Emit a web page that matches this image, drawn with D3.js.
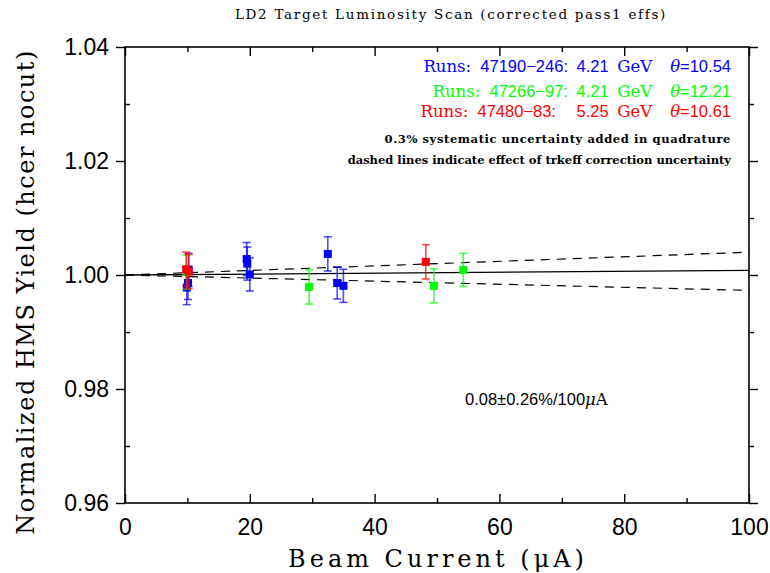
<!DOCTYPE html>
<html>
<head>
<meta charset="utf-8">
<script src="https://cdn.jsdelivr.net/npm/d3@7"></script>
<style>
  html, body { margin: 0; padding: 0; background: #fff; }
  svg { display: block; }
</style>
</head>
<body>
<svg id="chart" width="770" height="573"></svg>
<script>
// Beam current (uA), normalized yield and its uncertainty for each run group
const blueCurrent = [9.9, 10.1, 10.2, 19.5, 19.6, 20.0, 32.5, 34.0, 35.0];
const blueYield   = [0.9978, 0.9986, 1.0009, 1.0028, 1.0020, 1.0001, 1.0037, 0.9986, 0.9981];
const blueErr     = [0.0030, 0.0029, 0.0029, 0.0029, 0.0029, 0.0029, 0.0030, 0.0028, 0.0029];

const greenCurrent = [9.9, 29.5, 49.5, 54.2];
const greenYield   = [1.0005, 0.9979, 0.9981, 1.0009];
const greenErr     = [0.0030, 0.0030, 0.0030, 0.0029];

const redCurrent = [9.8, 10.2, 48.2];
const redYield   = [1.0010, 1.0006, 1.0023];
const redErr     = [0.0030, 0.0030, 0.0030];

// Linear fit and its trkeff-correction band, evaluated at 0 and 100 uA
const fitCurrent = [0, 100];
const fitYield   = [1.0000, 1.0008];
const bandUpper  = [1.0000, 1.0040];
const bandLower  = [1.0000, 0.9973];

const xTicks = [0, 20, 40, 60, 80, 100];
const xMinor = [10, 30, 50, 70, 90];
const yTicks = [0.96, 0.98, 1.00, 1.02, 1.04];
const yMinor = [0.97, 0.99, 1.01, 1.03];

const legendRuns   = ["47190\u2212246:", "47266\u221297:", "47480\u221283:"];
const legendEnergy = ["4.21", "4.21", "5.25"];
const legendTheta  = ["10.54", "12.21", "10.61"];
const legendColor  = ["#0000ff", "#00ff00", "#ff0000"];

const svg = d3.select("#chart");
const L = 125, R = 749, T = 47, B = 503;

const x = d3.scaleLinear().domain([0, 100]).range([L, R]);
const y = d3.scaleLinear().domain([0.96, 1.04]).range([B, T]);

const sans = "'Liberation Sans', Arial, sans-serif";
const serif = "'DejaVu Serif', 'Liberation Serif', serif";

// Frame
svg.append("rect").attr("x", L).attr("y", T).attr("width", R - L).attr("height", B - T)
  .attr("fill", "none").attr("stroke", "#000").attr("stroke-width", 1.6);

// Bottom axis: labels, major and minor ticks
const gx = svg.append("g").attr("transform", `translate(0,${B})`)
  .call(d3.axisBottom(x).tickValues(xTicks).tickFormat(d3.format("d")).tickSize(0).tickPadding(16));
gx.select(".domain").remove();
gx.selectAll("text").attr("font-family", sans).attr("font-size", 23).attr("fill", "#000");
svg.append("g").attr("transform", `translate(0,${B})`)
  .call(d3.axisTop(x).tickValues(xTicks).tickFormat("").tickSizeInner(9).tickSizeOuter(0))
  .call(g => g.select(".domain").remove());
svg.append("g").attr("transform", `translate(0,${B})`)
  .call(d3.axisTop(x).tickValues(xMinor).tickFormat("").tickSizeInner(5).tickSizeOuter(0))
  .call(g => g.select(".domain").remove());
// Top axis ticks
svg.append("g").attr("transform", `translate(0,${T})`)
  .call(d3.axisBottom(x).tickValues(xTicks).tickFormat("").tickSizeInner(9).tickSizeOuter(0))
  .call(g => g.select(".domain").remove());
svg.append("g").attr("transform", `translate(0,${T})`)
  .call(d3.axisBottom(x).tickValues(xMinor).tickFormat("").tickSizeInner(5).tickSizeOuter(0))
  .call(g => g.select(".domain").remove());

// Left axis
const gy = svg.append("g").attr("transform", `translate(${L},0)`)
  .call(d3.axisLeft(y).tickValues(yTicks).tickFormat(d3.format(".2f")).tickSizeInner(9).tickSizeOuter(0).tickPadding(7));
gy.select(".domain").remove();
gy.selectAll("text").attr("font-family", sans).attr("font-size", 23).attr("fill", "#000");
svg.append("g").attr("transform", `translate(${L},0)`)
  .call(d3.axisRight(y).tickValues(yMinor).tickFormat("").tickSizeInner(5).tickSizeOuter(0))
  .call(g => g.select(".domain").remove());
// Right axis ticks
svg.append("g").attr("transform", `translate(${R},0)`)
  .call(d3.axisRight(y).tickValues(yTicks).tickFormat("").tickSizeInner(9).tickSizeOuter(0))
  .call(g => g.select(".domain").remove());
svg.append("g").attr("transform", `translate(${R},0)`)
  .call(d3.axisRight(y).tickValues(yMinor).tickFormat("").tickSizeInner(5).tickSizeOuter(0))
  .call(g => g.select(".domain").remove());
svg.selectAll(".tick line").attr("stroke", "#000").attr("stroke-width", 1.4);

// Fit line and dashed band
const line = d3.line().x(d => x(d[0])).y(d => y(d[1]));
svg.append("path").datum(d3.zip(fitCurrent, fitYield)).attr("d", line)
  .attr("fill", "none").attr("stroke", "#000").attr("stroke-width", 1.3);
[bandUpper, bandLower].forEach(b => {
  svg.append("path").datum(d3.zip(fitCurrent, b)).attr("d", line)
    .attr("fill", "none").attr("stroke", "#000").attr("stroke-width", 1.2)
    .attr("stroke-dasharray", "9,7");
});

// Data points with error bars
function drawSeries(xs, ys, es, color) {
  const g = svg.append("g");
  const data = d3.zip(xs, ys, es);
  const eb = g.selectAll(".eb").data(data).join("g").attr("stroke", color).attr("stroke-opacity", 0.7).attr("stroke-width", 1.6);
  eb.append("line").attr("x1", d => x(d[0])).attr("x2", d => x(d[0]))
    .attr("y1", d => y(d[1] - d[2])).attr("y2", d => y(d[1] + d[2]));
  eb.append("line").attr("x1", d => x(d[0]) - 4).attr("x2", d => x(d[0]) + 4)
    .attr("y1", d => y(d[1] + d[2])).attr("y2", d => y(d[1] + d[2]));
  eb.append("line").attr("x1", d => x(d[0]) - 4).attr("x2", d => x(d[0]) + 4)
    .attr("y1", d => y(d[1] - d[2])).attr("y2", d => y(d[1] - d[2]));
  g.selectAll(".pt").data(data).join("rect")
    .attr("x", d => x(d[0]) - 4).attr("y", d => y(d[1]) - 4)
    .attr("width", 8).attr("height", 8).attr("fill", color);
}
drawSeries(blueCurrent, blueYield, blueErr, legendColor[0]);
drawSeries(greenCurrent, greenYield, greenErr, legendColor[1]);
drawSeries(redCurrent, redYield, redErr, legendColor[2]);

// Title
svg.append("text").attr("x", 451).attr("y", 19).attr("text-anchor", "middle")
  .attr("font-family", serif).attr("font-size", 13.5).attr("letter-spacing", 1.7)
  .text("LD2 Target Luminosity Scan (corrected pass1 effs)");

// Legend
const legY = [72, 97, 117];
legendRuns.forEach((r, i) => {
  const t = svg.append("text").attr("x", 731).attr("y", legY[i]).attr("text-anchor", "end")
    .attr("fill", legendColor[i]).attr("font-size", 16.5).attr("word-spacing", 4);
  t.append("tspan").attr("font-family", serif).text("Runs: ");
  t.append("tspan").attr("font-family", sans).text(r + " ");
  t.append("tspan").attr("font-family", sans).attr("dx", i === 2 ? 12 : 0).text(legendEnergy[i] + " ");
  t.append("tspan").attr("font-family", serif).text("GeV");
  t.append("tspan").attr("font-family", serif).attr("font-style", "italic").attr("dx", 18).text("\u03b8");
  t.append("tspan").attr("font-family", sans).text("=" + legendTheta[i]);
});
svg.append("text").attr("x", 731).attr("y", 143).attr("text-anchor", "end")
  .attr("font-family", serif).attr("font-size", 11.5).attr("font-weight", "bold").attr("letter-spacing", 0.6)
  .text("0.3% systematic uncertainty added in quadrature");
svg.append("text").attr("x", 731).attr("y", 164).attr("text-anchor", "end")
  .attr("font-family", serif).attr("font-size", 11.5).attr("font-weight", "bold")
  .text("dashed lines indicate effect of trkeff correction uncertainty");

// Fit slope annotation
const ann = svg.append("text").attr("x", 465).attr("y", 405).attr("font-family", sans).attr("font-size", 16.5);
ann.append("tspan").text("0.08\u00b10.26%/100");
ann.append("tspan").attr("font-family", serif).attr("font-style", "italic").text("\u03bc");
ann.append("tspan").attr("font-family", serif).text("A");

// Axis titles
svg.append("text").attr("x", 438).attr("y", 567).attr("text-anchor", "middle")
  .attr("font-family", serif).attr("font-size", 24).attr("letter-spacing", 4)
  .text("Beam Current (\u03bcA)");
svg.append("text").attr("transform", "translate(34,292) rotate(-90)").attr("text-anchor", "middle")
  .attr("font-family", serif).attr("font-size", 24).attr("letter-spacing", 1.5)
  .text("Normalized HMS Yield (hcer nocut)");
</script>
</body>
</html>
